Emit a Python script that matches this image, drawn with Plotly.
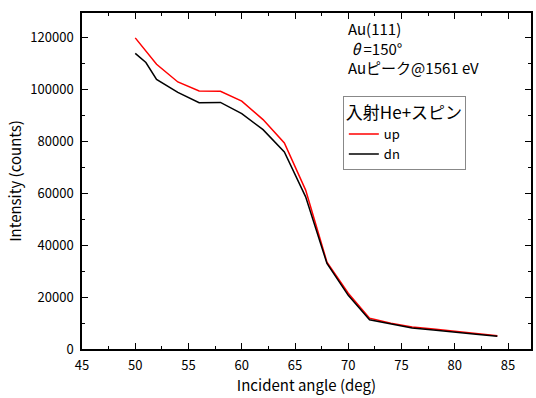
import plotly.graph_objects as go

angle_up = [50, 51, 52, 54, 56, 58, 60, 62, 64, 66, 68, 70, 72, 74, 76, 78, 80, 82, 84]
counts_up = [120000, 115000, 109800, 103000, 99500, 99400, 95600, 88500, 79500, 61300,
             33500, 21500, 11900, 9900, 8500, 7700, 6900, 5900, 5100]
angle_dn = [50, 51, 52, 54, 56, 58, 60, 62, 64, 66, 68, 70, 72, 74, 76, 78, 80, 82, 84]
counts_dn = [114000, 110500, 104000, 99000, 95000, 95100, 90800, 84600, 76000, 58700,
             33000, 20700, 11300, 9600, 8100, 7300, 6600, 5700, 4900]

font = "Noto Sans CJK JP, Noto Sans, sans-serif"

fig = go.Figure()
fig.add_trace(go.Scatter(x=angle_up, y=counts_up, mode="lines", name="up",
                         line=dict(color="#ff0000", width=1.5)))
fig.add_trace(go.Scatter(x=angle_dn, y=counts_dn, mode="lines", name="dn",
                         line=dict(color="#000000", width=1.5)))

axis_common = dict(showgrid=False, zeroline=False, showline=True, linecolor="black",
                   linewidth=1.5, mirror="ticks", ticks="inside", ticklen=6,
                   tickwidth=1.2, tickcolor="black",
                   tickfont=dict(family=font, size=13, color="black"))

fig.update_xaxes(range=[45, 87.16], dtick=5, tick0=45,
                 minor=dict(dtick=2.5, ticks="inside", ticklen=3, tickcolor="black", tickwidth=1),
                 title=dict(text="Incident angle (deg)", font=dict(family=font, size=15, color="black"),
                            standoff=6),
                 ticklabelstandoff=4,
                 **axis_common)
fig.update_yaxes(range=[0, 129600], dtick=20000, tick0=0, tickformat="d",
                 minor=dict(dtick=10000, ticks="inside", ticklen=3, tickcolor="black", tickwidth=1),
                 title=dict(text="Intensity (counts)", font=dict(family=font, size=15, color="black"),
                            standoff=5),
                 ticklabelstandoff=4,
                 **axis_common)

pw = 536 - 82 - 3
ph = 398 - 13 - 49
def px(x):
    return (x - 82) / pw
def py(y):
    return 1 - (y - 13) / ph

fig.update_layout(
    width=536, height=398,
    margin=dict(l=82, r=3, t=13, b=49),
    paper_bgcolor="white", plot_bgcolor="white",
    legend=dict(x=px(344), y=py(96), xref="paper", yref="paper",
                xanchor="left", yanchor="top",
                title=dict(text="入射He+スピン", font=dict(family=font, size=17, color="black")),
                font=dict(family=font, size=13, color="black"),
                bgcolor="white", bordercolor="#888888", borderwidth=1,
                tracegroupgap=0, itemwidth=30),
    annotations=[
        dict(text="Au(111)<br>\u00a0<i>θ</i>\u00a0=150°<br>Auピーク@1561 eV", x=px(347), y=py(16),
             xref="paper", yref="paper", showarrow=False, align="left",
             xanchor="left", yanchor="top",
             font=dict(family=font, size=15, color="black")),
    ],
)

fig.write_html("out.html")
